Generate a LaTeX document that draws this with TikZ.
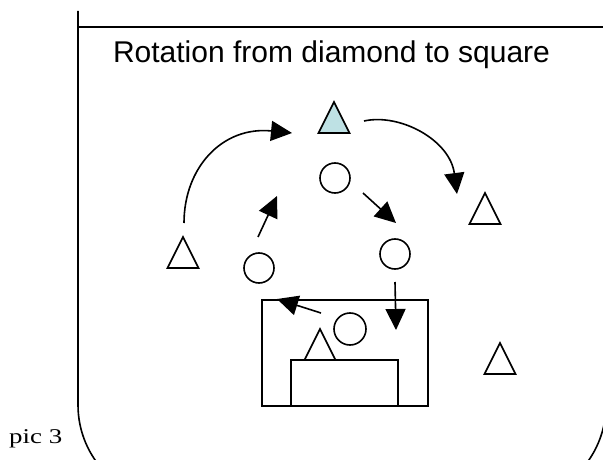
\documentclass[tikz,border=0pt]{standalone}
\usepackage{fontspec}
\newfontfamily\titlefont{Liberation Sans}
\newfontfamily\labelfont{Liberation Serif}
\usetikzlibrary{arrows.meta}
\definecolor{paleblue}{RGB}{190,225,228}
\tikzset{
  shapeline/.style={line width=1.6pt, line join=miter},
  arr/.style={line width=1.6pt, -{Triangle[length=21pt,width=20pt]}},
  tri/.pic={\draw[shapeline,pic actions] (-15.5,31) -- (0,0) -- (15.5,31) -- cycle;},
  ring/.style={circle, draw, line width=1.6pt, minimum size=30pt, inner sep=0pt},
}
\begin{document}
\begin{tikzpicture}[x=1pt,y=-1pt]
\useasboundingbox (0,0) rectangle (603,460);
\clip (0,0) rectangle (603,460);
% frame
\draw[line width=1.6pt, rounded corners=97pt] (78,11) -- (78,502) -- (606,502) -- (606,27);
\draw[line width=1.6pt] (78,27) -- (606,27);
% texts
\node[font=\titlefont\fontsize{30}{36}\selectfont, anchor=base, inner sep=0pt] (title) at (331.5,63) {Rotation from diamond to square};
\node[font=\labelfont\fontsize{21}{25}\selectfont, anchor=base west, inner sep=0pt] (pic) at (9,443) {\scalebox{1.28}[1]{pic 3}};
% triangles
\pic[fill=paleblue] (tblue) at (334,102) {tri};
\pic (tleft) at (183,237) {tri};
\pic (tright) at (485,193) {tri};
\pic (tbox) at (320,329) {tri};
\pic (tbr) at (500,343) {tri};
% circles
\node[ring] (ctop) at (335,178) {};
\node[ring] (cright) at (395,254) {};
\node[ring] (cleft) at (259,268) {};
\node[ring, minimum size=32pt] (cbox) at (350,329) {};
% rectangles
\node[draw, line width=1.6pt, anchor=north west, minimum width=166pt, minimum height=106pt, inner sep=0pt] (outerbox) at (261,299) {};
\node[draw, line width=1.6pt, anchor=north west, minimum width=107pt, minimum height=46pt, inner sep=0pt] (innerbox) at (290,359) {};
% arrow end points
\coordinate (a1s) at (184,223);
\coordinate (a1e) at (292,133);
\coordinate (a2s) at (364,121);
\coordinate (a2e) at (457,194);
\coordinate (a3s) at (363,193);
\coordinate (a3e) at (396,223);
\coordinate (a4s) at (258,237);
\coordinate (a4e) at (277,196);
\coordinate (a5s) at (395,282);
\coordinate (a5e) at (396,330);
\coordinate (a6s) at (321,313);
\coordinate (a6e) at (277,299);
% arrows
\draw[arr] (a1s) .. controls (184,168) and (222,126) .. (a1e);
\draw[arr] (a2s) .. controls (400,113) and (450,140) .. (a2e);
\draw[arr] (a3s) -- (a3e);
\draw[arr] (a4s) -- (a4e);
\draw[arr] (a5s) -- (a5e);
\draw[arr] (a6s) -- (a6e);
\end{tikzpicture}
\end{document}
